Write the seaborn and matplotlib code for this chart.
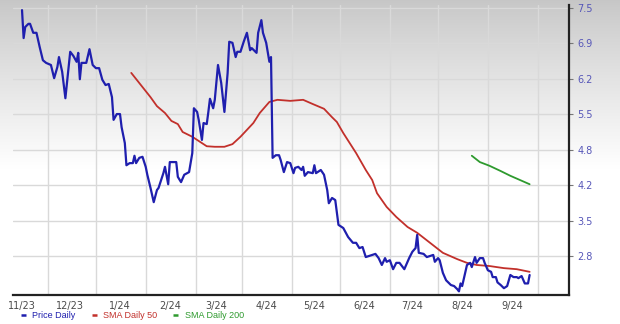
import numpy as np
import pandas as pd
import matplotlib
matplotlib.use("Agg")
import matplotlib.pyplot as plt
from matplotlib.lines import Line2D
import seaborn as sns

# ---------------- data ----------------
start_date = "2023-11-01"

price_days = [0, 1, 2, 4, 5, 7, 9, 11, 13, 15, 18, 20, 22, 23, 25, 27, 29, 30, 32, 34,
              35, 36, 37, 40, 42, 44, 46, 48, 50, 52, 54, 56, 57, 59, 61, 62, 64, 65, 67, 69,
              70, 71, 73, 75, 77, 78, 80, 82, 84, 85, 88, 89, 91, 92, 93, 96, 97, 99, 101, 104,
              106, 107, 109, 110, 112, 113, 115, 116, 117, 119, 120, 122, 124, 126, 128, 129, 131, 133, 134, 136,
              138, 140, 142, 143, 146, 147, 149, 150, 152, 154, 155, 156, 158, 160, 161, 163, 165, 167, 169, 170,
              172, 174, 175, 176, 178, 181, 182, 183, 186, 188, 190, 191, 193, 195, 197, 200, 203, 206, 208, 210,
              212, 214, 216, 220, 222, 224, 226, 227, 229, 231, 233, 235, 238, 241, 243, 245, 246, 247, 250, 252,
              254, 256, 257, 259, 260, 262, 264, 267, 269, 271, 272, 273, 274, 276, 277, 279, 280, 282, 283, 285,
              287, 288, 290, 292, 293, 295, 296, 298, 300, 302, 304, 306, 308, 309, 311, 313, 315, 316]
price_vals = [7.46, 6.93, 7.14, 7.20, 7.20, 7.03, 7.03, 6.76, 6.51, 6.46, 6.42, 6.17, 6.38, 6.57, 6.29, 5.79, 6.38, 6.67, 6.59, 6.48,
              6.65, 6.15, 6.46, 6.46, 6.72, 6.42, 6.36, 6.36, 6.14, 6.04, 6.06, 5.81, 5.38, 5.49, 5.49, 5.24, 4.94, 4.52, 4.56, 4.56,
              4.70, 4.56, 4.66, 4.68, 4.49, 4.34, 4.09, 3.82, 4.05, 4.09, 4.37, 4.49, 4.16, 4.58, 4.58, 4.58, 4.30, 4.20, 4.34, 4.39,
              4.75, 5.60, 5.53, 5.38, 5.00, 5.32, 5.30, 5.53, 5.78, 5.60, 5.76, 6.42, 6.08, 5.53, 6.27, 6.86, 6.84, 6.57, 6.67, 6.67,
              6.86, 7.03, 6.70, 6.74, 6.65, 7.03, 7.27, 7.03, 6.84, 6.48, 6.57, 4.66, 4.71, 4.71, 4.62, 4.39, 4.58, 4.56, 4.37, 4.47,
              4.49, 4.43, 4.49, 4.32, 4.39, 4.37, 4.52, 4.37, 4.43, 4.34, 4.05, 3.80, 3.90, 3.86, 3.39, 3.33, 3.16, 3.05, 3.05, 2.95,
              2.97, 2.78, 2.80, 2.84, 2.76, 2.63, 2.76, 2.69, 2.72, 2.55, 2.67, 2.67, 2.55, 2.76, 2.88, 2.95, 3.20, 2.86, 2.84, 2.78,
              2.80, 2.82, 2.69, 2.76, 2.72, 2.48, 2.34, 2.25, 2.23, 2.17, 2.13, 2.28, 2.23, 2.50, 2.63, 2.67, 2.59, 2.78, 2.67, 2.76,
              2.76, 2.67, 2.53, 2.50, 2.40, 2.40, 2.30, 2.25, 2.19, 2.23, 2.44, 2.40, 2.40, 2.38, 2.42, 2.28, 2.28, 2.44]

sma50_days = [68, 80, 84, 89, 93, 97, 100, 106, 111, 115, 120, 126, 131, 136, 140, 144, 148, 154, 159, 167,
              175, 181, 188, 193, 196, 200, 204, 208, 214, 218, 221, 227, 233, 240, 246, 254, 262, 271, 277, 283,
              291, 300, 308, 316]
sma50_vals = [6.27, 5.81, 5.64, 5.51, 5.36, 5.30, 5.15, 5.06, 4.96, 4.88, 4.87, 4.87, 4.92, 5.06, 5.19, 5.32, 5.51, 5.72, 5.76, 5.74,
              5.76, 5.68, 5.59, 5.43, 5.34, 5.13, 4.94, 4.75, 4.43, 4.24, 3.99, 3.73, 3.54, 3.35, 3.24, 3.05, 2.86, 2.74, 2.67, 2.63,
              2.61, 2.57, 2.55, 2.50]

sma200_days = [280, 285, 291, 298, 304, 310, 316]
sma200_vals = [4.70, 4.58, 4.51, 4.41, 4.32, 4.24, 4.16]

y_tick_labels = ["2.8", "3.5", "4.2", "4.8", "5.5", "6.2", "6.9", "7.5"]
x_tick_months = ["2023-11-01", "2023-12-01", "2024-01-01", "2024-02-01", "2024-03-01", "2024-04-01",
                 "2024-05-01", "2024-06-01", "2024-07-01", "2024-08-01", "2024-09-01"]
legend_labels = ["Price Daily", "SMA Daily 50", "SMA Daily 200"]

# ---------------- styling ----------------
c_price = "#1f1fae"
c_sma50 = "#c2302b"
c_sma200 = "#2e9a2e"
c_ylab = "#5656b8"
c_xlab = "#4a4a4a"
c_grid = "#d9d9d9"

sns.set_style("white")
plt.rcParams["font.family"] = ["DejaVu Sans"]

t0 = pd.Timestamp(start_date)
def to_dates(days):
    return t0 + pd.to_timedelta(np.asarray(days, dtype=float), unit="D")

price_df = pd.DataFrame({"date": to_dates(price_days), "value": price_vals})
sma50_df = pd.DataFrame({"date": to_dates(sma50_days), "value": sma50_vals})
sma200_df = pd.DataFrame({"date": to_dates(sma200_days), "value": sma200_vals})

W, H = 620, 324
fig = plt.figure(figsize=(W / 100, H / 100), dpi=100)

# gradient background for the whole figure
bg = fig.add_axes([0, 0, 1, 1], zorder=-10)
t = np.linspace(0, 1, 400)[:, None]
g = 0.78 + 0.22 * np.clip(t / 0.52, 0, 1) ** 0.9
img = np.repeat(g, 10, axis=1)
bg.imshow(np.dstack([img, img, img]), aspect="auto", extent=[0, 1, 0, 1], origin="upper")
bg.set_axis_off()

left, right, top, bottom = 12.7, 569.3, 5, 295
ax = fig.add_axes([left / W, 1 - bottom / H, (right - left) / W, (bottom - top) / H])
ax.patch.set_alpha(0)

sns.lineplot(data=price_df, x="date", y="value", ax=ax, color=c_price, lw=1.6,
             sort=False, estimator=None, zorder=3)
sns.lineplot(data=sma50_df, x="date", y="value", ax=ax, color=c_sma50, lw=1.3,
             sort=False, estimator=None, zorder=2)
sns.lineplot(data=sma200_df, x="date", y="value", ax=ax, color=c_sma200, lw=1.3,
             sort=False, estimator=None, zorder=2)

# axes ranges
ymin = 7.5 - (bottom - 8) * (4.7 / 248)
ymax = 7.5 + (8 - top) * (4.7 / 248)
ax.set_ylim(ymin, ymax)
ax.set_xlim(t0 + pd.Timedelta(days=-5.8), t0 + pd.Timedelta(days=340.7))

# y ticks on right
ytick_pos = np.linspace(2.8, 7.5, len(y_tick_labels))
ax.yaxis.tick_right()
ax.set_yticks(ytick_pos)
ax.set_yticklabels(y_tick_labels)
ax.tick_params(axis="y", which="major", direction="out", length=3, width=0.8, color="#777777",
               labelsize=7, labelcolor=c_ylab, pad=3)

# x ticks: labels at month start, grid at mid-month
ax.set_xticks(pd.to_datetime(x_tick_months))
ax.set_xticklabels([f"{d.month}/{str(d.year)[2:]}" for d in pd.to_datetime(x_tick_months)])
ax.tick_params(axis="x", which="major", length=0, labelsize=7, labelcolor=c_xlab, pad=4)
grid_days = pd.to_datetime(x_tick_months) + pd.Timedelta(days=16)
ax.set_xticks(grid_days, minor=True)
ax.tick_params(axis="x", which="minor", length=0)

ax.grid(False)
for yv in ytick_pos:
    ax.axhline(yv, color=c_grid, lw=1.0, zorder=0)
for xv in grid_days:
    ax.axvline(xv, color=c_grid, lw=1.0, zorder=0)

ax.set_xlabel("")
ax.set_ylabel("")
for s in ["left", "top"]:
    ax.spines[s].set_visible(False)
for s in ["right", "bottom"]:
    ax.spines[s].set_visible(True)
    ax.spines[s].set_color("#222222")
    ax.spines[s].set_linewidth(1.6)

# legend
handles = [Line2D([0], [0], color=c, lw=1.8, solid_capstyle="butt") for c in (c_price, c_sma50, c_sma200)]
leg = fig.legend(handles, legend_labels, loc="center left", bbox_to_anchor=(21 / W, 1 - 316 / H),
                 ncol=3, frameon=False, handlelength=0.55, handletextpad=0.7, columnspacing=1.8,
                 borderaxespad=0, borderpad=0,
                 prop={"family": "Liberation Sans", "size": 6.5})
for txt, c in zip(leg.get_texts(), (c_price, c_sma50, c_sma200)):
    txt.set_color(c)

fig.savefig("out.png", dpi=100)
